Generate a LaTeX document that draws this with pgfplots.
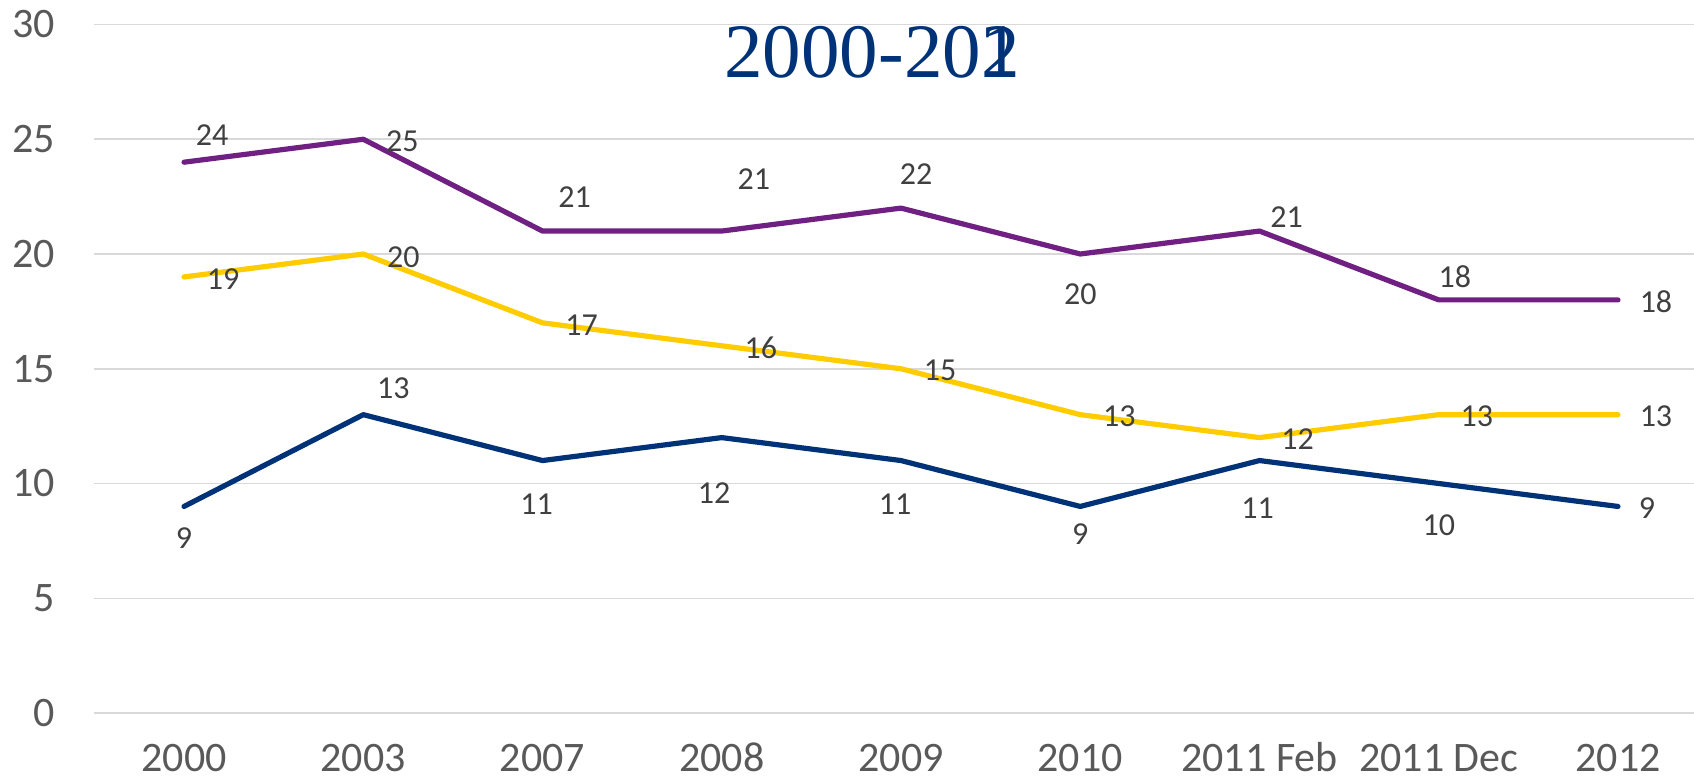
\documentclass[border=0pt]{standalone}
\usepackage{pgfplots}
\pgfplotsset{compat=1.18}
\usepackage{pgfplotstable}
\usepackage{fontspec}
\setmainfont{Carlito}
\newfontfamily\titlefont{Liberation Serif}
\definecolor{cpurple}{RGB}{112,32,130}
\definecolor{cyellow}{RGB}{255,204,0}
\definecolor{cnavy}{RGB}{0,50,120}
\definecolor{ctick}{RGB}{89,89,89}
\definecolor{clabel}{RGB}{64,64,64}
\definecolor{cgrid}{RGB}{217,217,217}

\pgfplotstableread{
x y dx dy
0 24 14 13.5
1 25 19.5 -1
2 21 16 17
3 21 16 26
4 22 7.6 17
5 20 0 -20
6 21 13.5 7
7 18 8 11.5
8 18 19 -1
}\tpurple
\pgfplotstableread{
x y dx dy
0 19 19.5 -1
1 20 20 -1.5
2 17 19.5 -1
3 16 19.5 -1
4 15 19.5 -1
5 13 19.5 -1
6 12 19 -1
7 13 19 -1
8 13 19 -1
}\tyellow
\pgfplotstableread{
x y dx dy
0 9 0 -16
1 13 15 13
2 11 -3 -21.6
3 12 -3.8 -28
4 11 -3 -21.6
5 9 0 -14
6 11 -1 -24
7 10 0 -21
8 9 14.5 -1
}\tnavy

\begin{document}
\begin{tikzpicture}
\begin{axis}[
  at={(0,0)}, anchor=south west,
  scale only axis,
  width=806.6bp, height=344.25bp,
  xmin=-0.5, xmax=8.5, ymin=0, ymax=30,
  xtick={0,...,8},
  xticklabels={2000,2003,2007,2008,2009,2010,2011 Feb,2011 Dec,2012},
  ytick={0,5,...,30},
  ymajorgrids,
  grid style={cgrid, line width=0.75bp},
  axis line style={draw=none},
  tick style={draw=none},
  clip=false,
  /pgf/number format/assume math mode=true,
  ticklabel style={text=ctick, font=\fontsize{21bp}{25bp}\selectfont},
  xticklabel style={anchor=base, yshift=-29bp},
  yticklabel style={anchor=east, inner sep=0pt, xshift=-19.7bp},
  nodes near coords,
  visualization depends on={\thisrow{dx} \as \dx},
  visualization depends on={\thisrow{dy} \as \dy},
  every node near coord/.append style={anchor=center, inner sep=0pt,
     xshift=\dx bp, yshift=\dy bp, text=clabel,
     font=\fontsize{16bp}{19bp}\selectfont},
  every axis plot/.append style={line width=2.6bp, line cap=round, line join=round, mark=none},
]
\addplot[cpurple] table[x=x,y=y] {\tpurple};
\addplot[cyellow] table[x=x,y=y] {\tyellow};
\addplot[cnavy] table[x=x,y=y] {\tnavy};
\end{axis}
\node[anchor=base, text=cnavy, font=\titlefont\fontsize{38.5bp}{42bp}\selectfont, inner sep=0pt]
  at (388.8bp,317.5bp) {2000-20\rlap{1}2};
\pgfresetboundingbox
\path (-47.2bp,-34bp) rectangle (799.8bp,356.5bp);
\end{tikzpicture}
\end{document}
